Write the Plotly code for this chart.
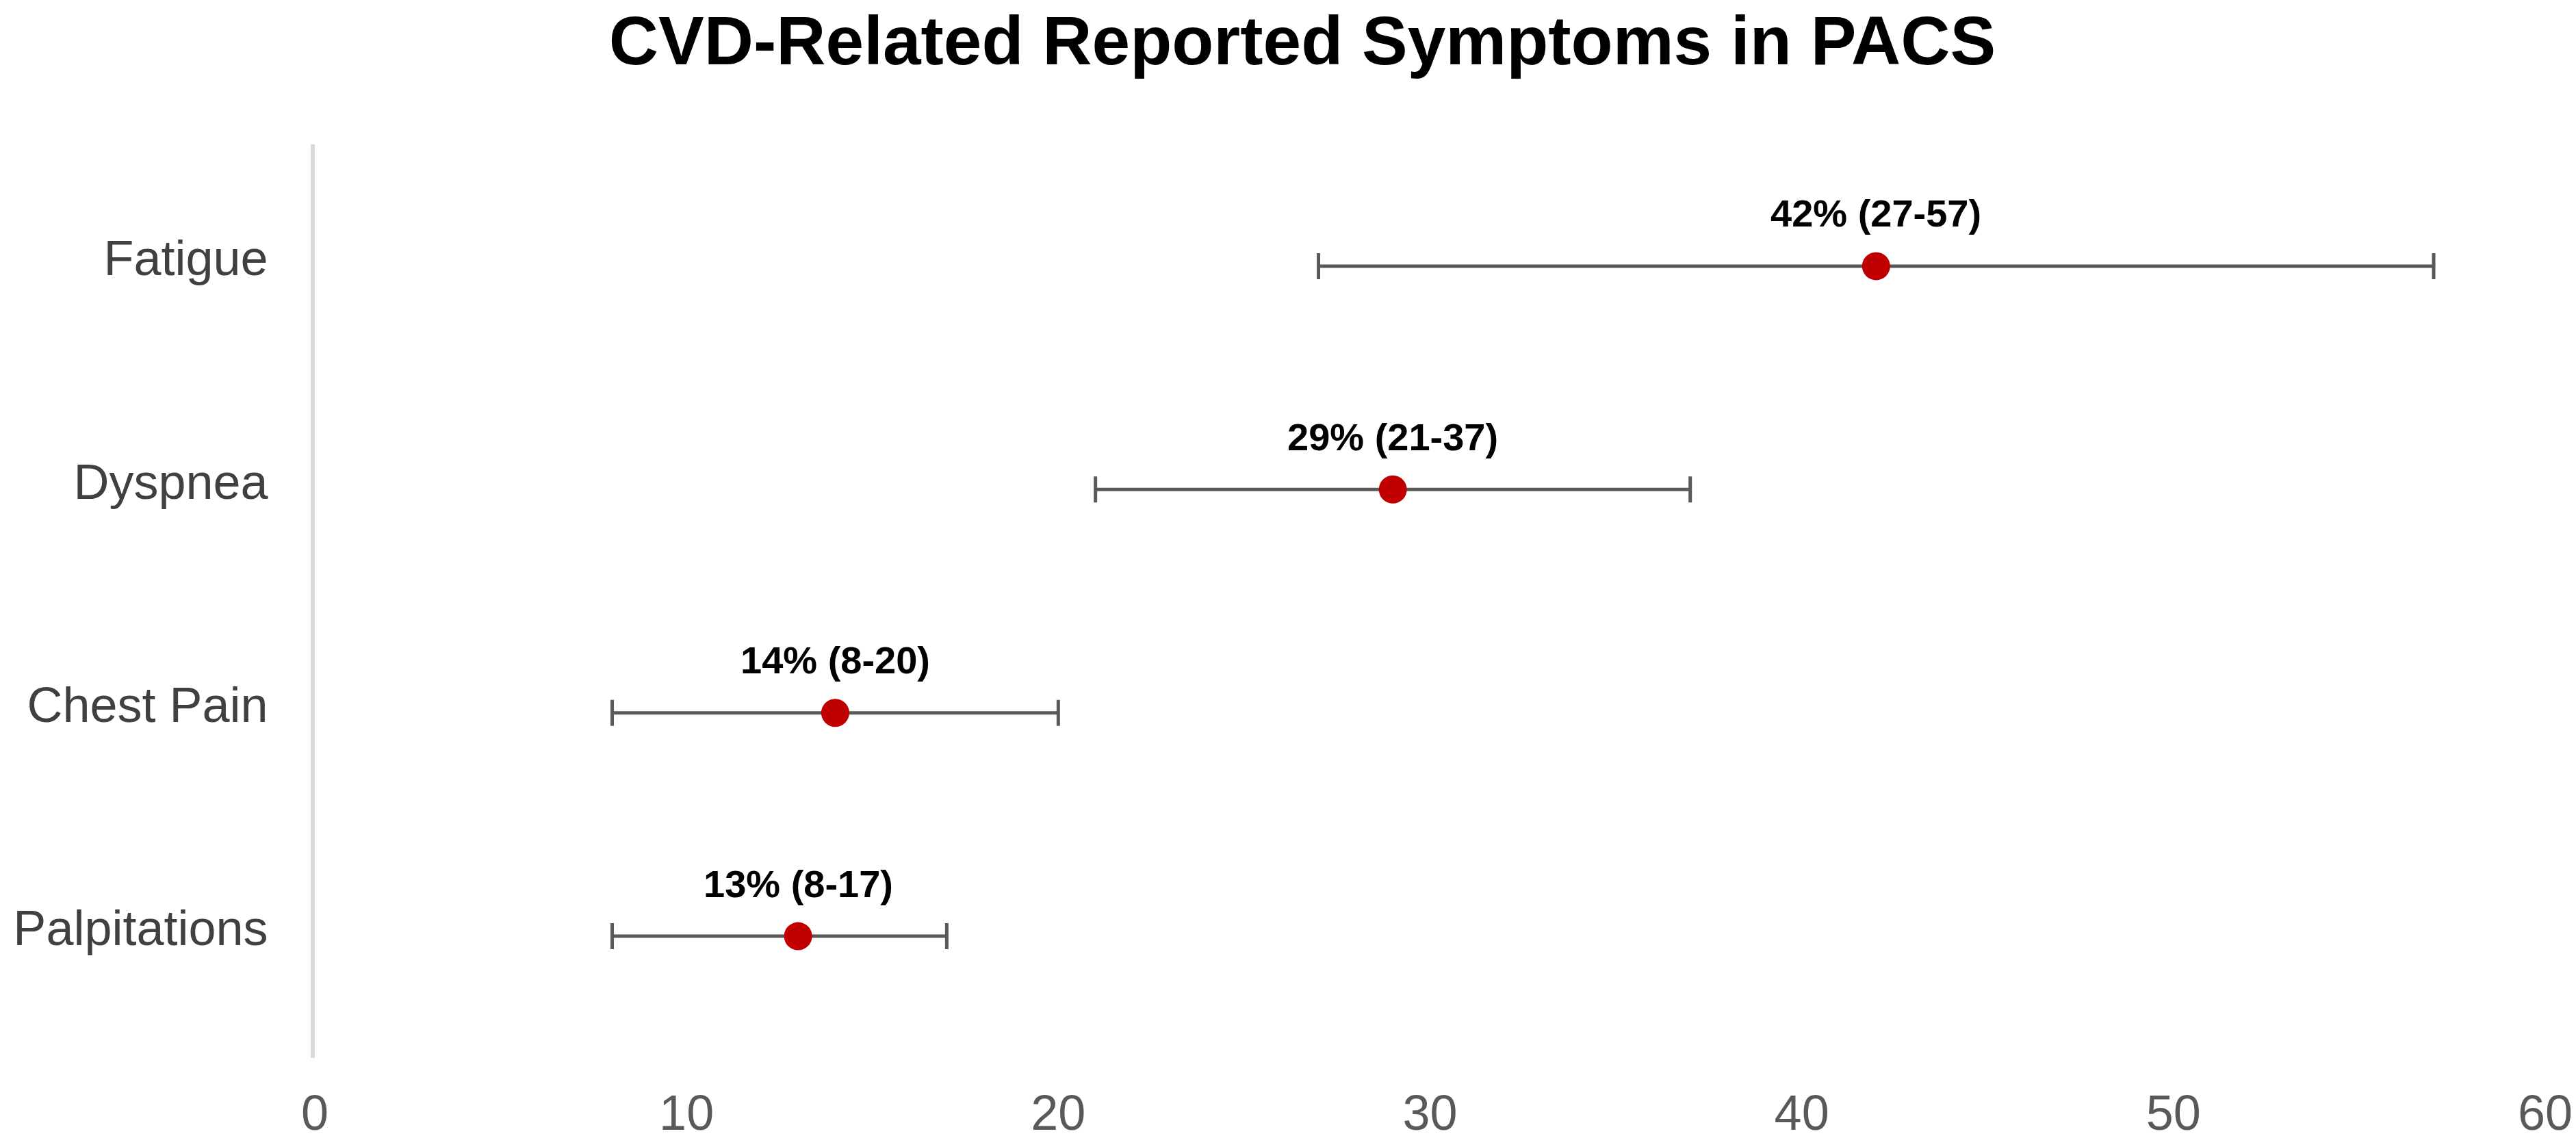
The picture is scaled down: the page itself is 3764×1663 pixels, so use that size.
import plotly.graph_objects as go

categories = ["Fatigue", "Dyspnea", "Chest Pain", "Palpitations"]
estimates = [42, 29, 14, 13]
lower = [27, 21, 8, 8]
upper = [57, 37, 20, 17]
x_ticks = [0, 10, 20, 30, 40, 50, 60]

plus = [u - e for u, e in zip(upper, estimates)]
minus = [e - l for e, l in zip(estimates, lower)]
labels = [f"{e}% ({l}-{u})" for e, l, u in zip(estimates, lower, upper)]

FONT = "Liberation Sans, Arial, sans-serif"
W, H = 3748, 1647

fig = go.Figure()
fig.add_trace(go.Scatter(
    x=estimates, y=categories, mode="markers",
    marker=dict(color="#c00000", size=41, line=dict(width=0)),
    error_x=dict(type="data", symmetric=False, array=plus, arrayminus=minus,
                 color="#595959", thickness=5, width=19),
    showlegend=False, hoverinfo="skip",
))

for e, c, t in zip(estimates, categories, labels):
    fig.add_annotation(x=e, y=c, text=f"<b>{t}</b>", showarrow=False,
                       yanchor="middle", yshift=77,
                       font=dict(family=FONT, size=56, color="#000000"))

fig.update_layout(
    width=W, height=H,
    paper_bgcolor="white", plot_bgcolor="white",
    margin=dict(l=452, r=37, t=203, b=109, autoexpand=False),
    title=dict(text="<b>CVD-Related Reported Symptoms in PACS</b>",
               x=0.5056, xanchor="center", xref="container",
               y=1 - 51 / H, yanchor="middle", yref="container",
               font=dict(family=FONT, size=100, color="#000000")),
    font=dict(family=FONT),
    xaxis=dict(range=[0, 60], tickvals=x_ticks, showgrid=False, zeroline=False,
               showline=False, ticks="", ticklabelstandoff=32,
               ticklabeloverflow="allow",
               tickfont=dict(family=FONT, size=72, color="#595959")),
    yaxis=dict(categoryorder="array", categoryarray=categories,
               range=[3.545, -0.545], showgrid=False, zeroline=False,
               showline=True, linecolor="#d9d9d9", linewidth=6,
               ticks="", ticklabelstandoff=48, ticklabelshift=12,
               tickfont=dict(family=FONT, size=72, color="#404040")),
)

fig.write_html("out.html")
